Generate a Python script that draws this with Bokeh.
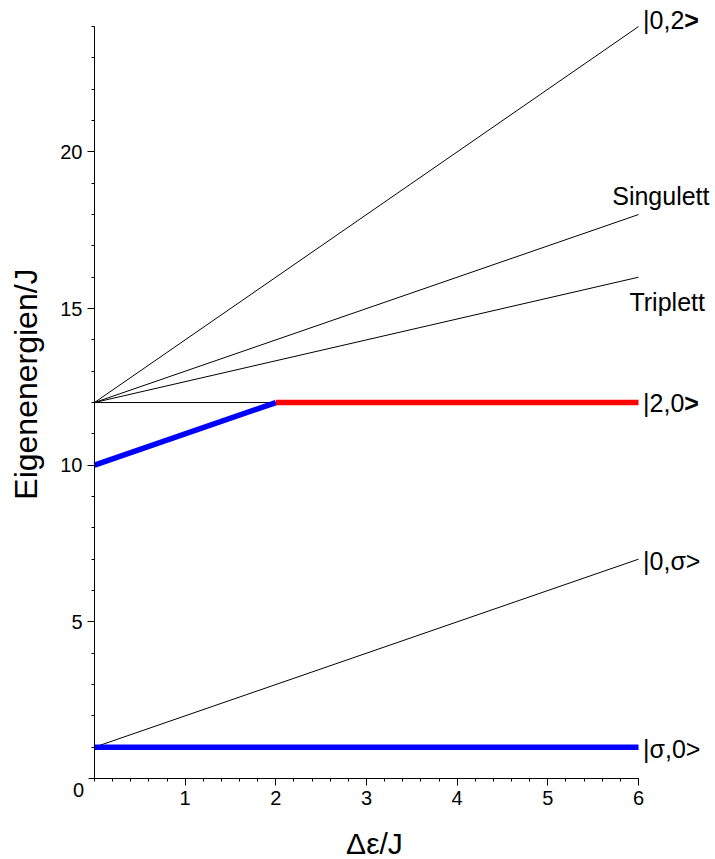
from bokeh.plotting import figure
from bokeh.models import FixedTicker, Range1d, Label, LabelSet, ColumnDataSource
from bokeh.core.properties import value
from bokeh.embed import file_html
from bokeh.resources import INLINE

# ---- data ----
x_full = [0, 6]
y_0_2 = [12, 24]
y_singulett = [12, 18]
y_triplett = [12, 16]
x_left = [0, 2]
y_flat12 = [12, 12]
y_blue_rise = [10, 12]
x_right = [2, 6]
y_red = [12, 12]
y_0_sigma = [1, 7]
y_sigma_0 = [1, 1]

label_text = ["|0,2", "Singulett", "Triplett", "|2,0", "|0,σ>", "|σ,0>"]
label_x = [6.05, 5.71, 5.90, 6.05, 6.05, 6.05]
label_y = [24.2, 18.6, 15.2, 12.0, 6.95, 0.95]
bold_text = [">", ">"]
bold_x = [6.505, 6.505]
bold_y = [24.2, 12.0]

x_major = [1, 2, 3, 4, 5, 6]
x_minor = [0.2 * i for i in range(31)]
y_major = [5, 10, 15, 20]
y_minor = list(range(0, 25))

FONT = "Liberation Sans"

p = figure(width=715, height=859, output_backend="svg", toolbar_location=None,
           x_range=Range1d(-1.0367, 6.849), y_range=Range1d(-2.585, 24.832),
           min_border=0, min_border_left=0, min_border_right=0,
           min_border_top=0, min_border_bottom=0)
p.outline_line_color = None
p.grid.visible = False
p.background_fill_color = "white"

for ax, maj, mnr, b in ((p.xaxis, x_major, x_minor, (-0.066, 6)), (p.yaxis, y_major, y_minor, (0, 24))):
    ax.fixed_location = 0
    ax.ticker = FixedTicker(ticks=maj, minor_ticks=mnr)
    ax.bounds = b
    ax.axis_line_color = "black"
    ax.axis_line_width = 1
    ax.major_tick_line_color = "black"
    ax.minor_tick_line_color = "black"
    ax.major_tick_in = 0
    ax.minor_tick_in = 0
    ax.major_tick_out = 7
    ax.minor_tick_out = 3
    ax.major_label_text_font = FONT
    ax.major_label_text_font_size = "20px"
    ax.major_label_text_color = "black"
    ax.major_label_standoff = 5

p.line(x_full, y_0_2, line_color="black", line_width=1)
p.line(x_full, y_singulett, line_color="black", line_width=1)
p.line(x_full, y_triplett, line_color="black", line_width=1)
p.line(x_left, y_flat12, line_color="black", line_width=1)
p.line(x_full, y_0_sigma, line_color="black", line_width=1)

p.line(x_left, y_blue_rise, line_color="#0000ff", line_width=5.5)
p.line(x_right, y_red, line_color="#ff0000", line_width=5.5)
p.line(x_full, y_sigma_0, line_color="#0000ff", line_width=5.5)

src = ColumnDataSource(dict(x=label_x, y=label_y, text=label_text))
p.add_layout(LabelSet(x="x", y="y", text="text", source=src, text_align="left",
                      text_baseline="middle", text_font=value(FONT), text_font_size="25px",
                      text_color="black"))
bsrc = ColumnDataSource(dict(x=bold_x, y=bold_y, text=bold_text))
p.add_layout(LabelSet(x="x", y="y", text="text", source=bsrc, text_align="left",
                      text_baseline="middle", text_font=value(FONT), text_font_size="25px",
                      text_font_style="bold", text_color="black"))

p.add_layout(Label(x=-0.176, y=-0.351, text="0", text_align="center", text_baseline="middle",
                   text_font=FONT, text_font_size="20px", text_color="black"))
p.add_layout(Label(x=3.088, y=-2.059, text="Δε/J", text_align="center", text_baseline="middle",
                   text_font=FONT, text_font_size="30px", text_color="black"))
p.add_layout(Label(x=-0.75, y=12.59, text="Eigenenergien/J", angle=1.5707963,
                   text_align="center", text_baseline="middle",
                   text_font=FONT, text_font_size="32px", text_color="black"))

open("out.html", "w").write(file_html(p, INLINE))
